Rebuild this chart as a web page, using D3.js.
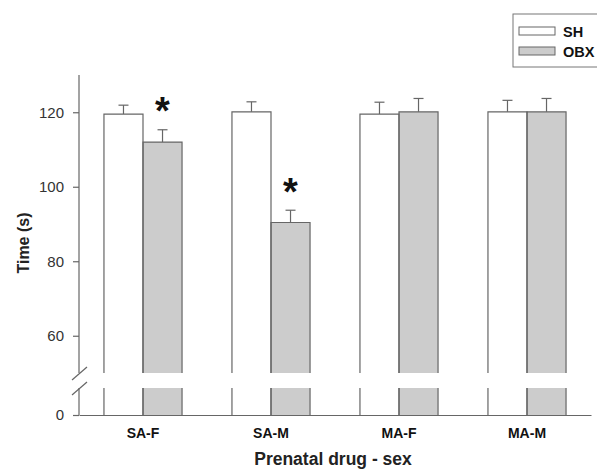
<!DOCTYPE html>
<html>
<head>
<meta charset="utf-8">
<script src="https://cdn.jsdelivr.net/npm/d3@7"></script>
<style>
  body { margin: 0; background: #fff; }
  svg { display: block; font-family: "Liberation Sans", Arial, sans-serif; }
</style>
</head>
<body>
<div id="chart"></div>
<script>
const categories = ["SA-F", "SA-M", "MA-F", "MA-M"];
const seriesNames = ["SH", "OBX"];
const shMeans = [119.5, 120.1, 119.5, 120.1];
const shSem = [2.4, 2.7, 3.2, 3.1];
const obxMeans = [112.0, 90.4, 120.1, 120.1];
const obxSem = [3.3, 3.3, 3.6, 3.6];
const obxStar = [true, true, false, false];
const upperTicks = [60, 80, 100, 120];
const lowerTicks = [0];

const width = 597, height = 471;
const axisColor = "#666";
const fills = { SH: "#ffffff", OBX: "#cccccc" };

const svg = d3.select("#chart")
    .append("svg")
    .attr("width", width)
    .attr("height", height);

// broken y axis: two scales
const breakTop = 373, breakBottom = 388;
const yUp = d3.scaleLinear().domain([50, 130]).range([breakTop, 75]);
const yLow = d3.scaleLinear().domain([0, 7.2]).range([415, breakBottom]);

const x = d3.scaleBand()
    .domain(categories)
    .range([79, 591])
    .paddingInner(0.39)
    .paddingOuter(0.195);

const xs = d3.scaleBand()
    .domain(seriesNames)
    .range([0, x.bandwidth()]);

const rows = categories.map((c, i) => ({
    cat: c,
    vals: [
        { s: "SH", v: shMeans[i], e: shSem[i], star: false },
        { s: "OBX", v: obxMeans[i], e: obxSem[i], star: obxStar[i] }
    ]
}));
const bars = rows.flatMap(r => r.vals.map(d => ({ ...d, cat: r.cat })));
const bx = d => x(d.cat) + xs(d.s);
const bw = xs.bandwidth();

// error bars (upper only)
const eb = svg.append("g").attr("stroke", axisColor).attr("stroke-width", 1.2);
bars.forEach(d => {
    const cx = bx(d) + bw / 2;
    eb.append("line").attr("x1", cx).attr("x2", cx)
        .attr("y1", yUp(d.v)).attr("y2", yUp(d.v + d.e));
    eb.append("line").attr("x1", cx - 5).attr("x2", cx + 5)
        .attr("y1", yUp(d.v + d.e)).attr("y2", yUp(d.v + d.e));
});

// bar fills, upper and lower pieces
const g = svg.append("g");
g.selectAll("rect.up")
    .data(bars)
    .enter()
    .append("rect")
    .attr("class", "up")
    .attr("x", d => bx(d))
    .attr("y", d => yUp(d.v))
    .attr("width", bw)
    .attr("height", d => breakTop - yUp(d.v))
    .attr("fill", d => fills[d.s]);

g.selectAll("rect.low")
    .data(bars)
    .enter()
    .append("rect")
    .attr("class", "low")
    .attr("x", d => bx(d))
    .attr("y", yLow(yLow.domain()[1]))
    .attr("width", bw)
    .attr("height", yLow(0) - yLow(yLow.domain()[1]))
    .attr("fill", d => fills[d.s]);

// bar outlines (open at the break)
g.selectAll("path.outline")
    .data(bars)
    .enter()
    .append("path")
    .attr("fill", "none")
    .attr("stroke", axisColor)
    .attr("stroke-width", 1.2)
    .attr("d", d => {
        const l = bx(d), r = l + bw, t = yUp(d.v);
        return `M${l},${breakTop}V${t}H${r}V${breakTop}` +
            `M${l},${breakBottom}V${yLow(0)}M${r},${breakBottom}V${yLow(0)}`;
    });

// asterisks
g.selectAll("text.star")
    .data(bars.filter(d => d.star))
    .enter()
    .append("text")
    .attr("x", d => bx(d) + bw / 2)
    .attr("y", d => yUp(d.v + d.e) - 29)
    .attr("text-anchor", "middle")
    .attr("font-size", 38)
    .attr("font-weight", "bold")
    .attr("fill", "#111")
    .attr("dy", "0.62em")
    .text("*");

// y axes
function styleAxis(sel) {
    sel.select(".domain").remove();
    sel.selectAll(".tick line").attr("stroke", axisColor).attr("stroke-width", 1.2);
    sel.selectAll(".tick text")
        .attr("fill", "#333")
        .attr("font-size", 15);
}

svg.append("g")
    .attr("transform", "translate(79,0)")
    .call(d3.axisLeft(yUp).tickValues(upperTicks).tickSize(6).tickPadding(9))
    .call(styleAxis);

svg.append("g")
    .attr("transform", "translate(79,0)")
    .call(d3.axisLeft(yLow).tickValues(lowerTicks).tickSize(6).tickPadding(9))
    .call(styleAxis);

const ax = svg.append("g").attr("stroke", axisColor).attr("stroke-width", 1.2).attr("fill", "none");
ax.append("line").attr("x1", 79).attr("x2", 79).attr("y1", yUp.range()[1]).attr("y2", breakTop);
ax.append("line").attr("x1", 79).attr("x2", 79).attr("y1", breakBottom).attr("y2", yLow(0));
[breakTop + 1, breakBottom + 1].forEach(yy => {
    ax.append("line").attr("x1", 72).attr("x2", 87).attr("y1", yy + 6).attr("y2", yy - 7);
});

// x axis
const xAxis = svg.append("g")
    .attr("transform", `translate(0,${yLow(0)})`)
    .call(d3.axisBottom(x).tickSize(0).tickPadding(13));
xAxis.select(".domain").attr("stroke", axisColor).attr("stroke-width", 1.2);
xAxis.selectAll(".tick text")
    .attr("fill", "#111")
    .attr("font-size", 14)
    .attr("font-weight", "bold");

// axis titles
svg.append("text")
    .attr("x", 333)
    .attr("y", 465)
    .attr("text-anchor", "middle")
    .attr("font-size", 17.5)
    .attr("font-weight", "bold")
    .attr("fill", "#222")
    .text("Prenatal drug - sex");

svg.append("text")
    .attr("transform", "translate(29,243) rotate(-90)")
    .attr("text-anchor", "middle")
    .attr("font-size", 16)
    .attr("font-weight", "bold")
    .attr("fill", "#222")
    .text("Time (s)");

// legend
const lg = svg.append("g");
lg.append("rect")
    .attr("x", 513).attr("y", 14)
    .attr("width", 100).attr("height", 53)
    .attr("fill", "#fff").attr("stroke", "#777").attr("stroke-width", 1);
seriesNames.forEach((s, i) => {
    const yy = 27 + i * 20;
    lg.append("rect")
        .attr("x", 519).attr("y", yy)
        .attr("width", 36).attr("height", 8)
        .attr("fill", fills[s]).attr("stroke", axisColor).attr("stroke-width", 1);
    lg.append("text")
        .attr("x", 563).attr("y", yy + 10)
        .attr("font-size", 14.5)
        .attr("font-weight", "bold")
        .attr("fill", "#111")
        .text(s);
});
</script>
</body>
</html>
